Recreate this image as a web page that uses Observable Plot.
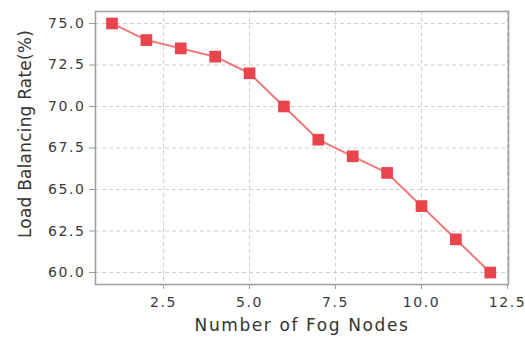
<!DOCTYPE html>
<html><head><meta charset="utf-8">
<script src="https://cdn.jsdelivr.net/npm/d3@7"></script>
<script src="https://cdn.jsdelivr.net/npm/@observablehq/plot@0.6"></script>
<style>body{margin:0;background:#fff;} svg{font-family:"DejaVu Sans",sans-serif;}</style>
</head><body><div id="chart"></div>
<script>
const nodes = [1,2,3,4,5,6,7,8,9,10,11,12];
const rates = [75,74,73.5,73,72,70,68,67,66,64,62,60];
const xTicks = [2.5,5.0,7.5,10.0,12.5];
const yTicks = [60.0,62.5,65.0,67.5,70.0,72.5,75.0];
const xLabel = "Number of Fog Nodes";
const yLabel = "Load Balancing Rate(%)";
const data = nodes.map((n,i)=>({n, r: rates[i]}));

const chart = Plot.plot({
  width: 525, height: 343,
  marginLeft: 95, marginRight: 17, marginTop: 11, marginBottom: 59,
  style: {fontSize: "14px", color: "#3a3a3a", background: "#fff", fontFamily: "'DejaVu Sans', sans-serif"},
  x: {domain: [0.52, 12.53]},
  y: {domain: [59.28, 75.72]},
  marks: [
    Plot.gridX(xTicks, {stroke: "#cfcfcf", strokeOpacity: 1, strokeDasharray: "4,3"}),
    Plot.gridY(yTicks, {stroke: "#cfcfcf", strokeOpacity: 1, strokeDasharray: "4,3"}),
    Plot.axisX(xTicks, {tickFormat: d3.format(".1f"), tickSize: 5, tickPadding: 8, stroke: "#999", fill: "#3a3a3a", label: null}),
    Plot.axisY(yTicks, {tickFormat: d3.format(".1f"), tickSize: 6, tickPadding: 4, stroke: "#999", fill: "#3a3a3a", label: null}),
    Plot.frame({stroke: "#a0a0a0", strokeWidth: 1.6}),
    Plot.text([xLabel], {text: d => d, frameAnchor: "bottom", dy: 46, fontSize: 17, fill: "#333"}),
    Plot.text([yLabel], {text: d => d, frameAnchor: "left", textAnchor: "middle", lineAnchor: "middle", rotate: -90, dx: -70, dy: -14, fontSize: 17, fill: "#333"}),
    Plot.line(data, {x: "n", y: "r", stroke: "#f27878", strokeWidth: 2}),
    Plot.dot(data, {x: "n", y: "r", symbol: "square", r: 6.6, fill: "#e8444c", stroke: "none"})
  ]
});
document.getElementById("chart").appendChild(chart);
const s = d3.select(chart);
s.selectAll("[aria-label='x-axis tick label'] text, [aria-label='y-axis tick label'] text").style("letter-spacing", "1.6px");
s.selectAll("[aria-label='text'] text").style("letter-spacing", "1.6px");
s.selectAll("[aria-label='text'] text").filter(function(){ return this.textContent === yLabel; }).style("letter-spacing", "0.2px");
</script></body></html>
